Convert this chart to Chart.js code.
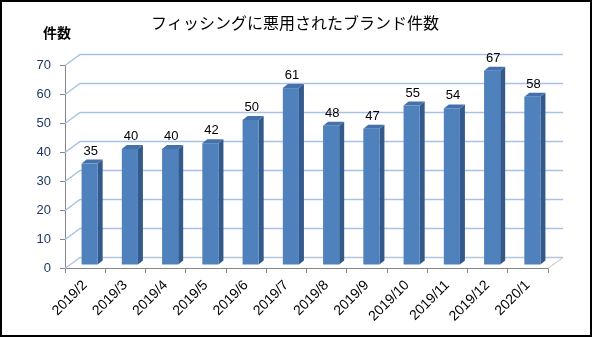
<!DOCTYPE html>
<html>
<head>
<meta charset="utf-8">
<script src="https://cdn.jsdelivr.net/npm/chart.js@4"></script>
<style>
  html, body { margin: 0; padding: 0; background: #fff; }
  #wrap { width: 592px; height: 337px; }
</style>
</head>
<body>
<div id="wrap"><canvas id="chart" width="592" height="337"></canvas></div>
<script>
// Data
const months = ['2019/2', '2019/3', '2019/4', '2019/5', '2019/6', '2019/7',
  '2019/8', '2019/9', '2019/10', '2019/11', '2019/12', '2020/1'];
const brandCounts = [35, 40, 40, 42, 50, 61, 48, 47, 55, 54, 67, 58];
const yTicks = [0, 10, 20, 30, 40, 50, 60, 70];

const chartTitle = 'フィッシングに悪用されたブランド件数';
const axisTitle = '件数';

// depth of the back wall and of the bars (pseudo 3D like the Excel chart)
const WALL_DX = 15, WALL_DY = -11;
const BAR_DX = 4.5, BAR_DY = -3;
const SIDE_DX = 5, SIDE_DY = -4;

const threeD = {
  id: 'threeD',
  beforeDatasetsDraw(chart) {
    const ctx = chart.ctx;
    const y = chart.scales.y;
    const area = chart.chartArea;
    ctx.save();
    // back wall + left wall gridlines
    yTicks.forEach(v => {
      const py = Math.round(y.getPixelForValue(v)) + 0.5;
      ctx.strokeStyle = v === 0 ? '#b4c6dc' : '#a7c2e6';
      ctx.lineWidth = 1.5;
      ctx.beginPath();
      ctx.moveTo(area.left, py);
      ctx.lineTo(area.left + WALL_DX, py + WALL_DY);
      ctx.lineTo(area.right + WALL_DX, py + WALL_DY);
      ctx.stroke();
    });
    // right floor edge
    const by = Math.round(y.getPixelForValue(0)) + 0.5;
    ctx.strokeStyle = '#c0c0c0';
    ctx.lineWidth = 1;
    ctx.beginPath();
    ctx.moveTo(area.right, by);
    ctx.lineTo(area.right + WALL_DX, by + WALL_DY);
    ctx.stroke();
    ctx.restore();
  },
  afterDatasetsDraw(chart) {
    const ctx = chart.ctx;
    const meta = chart.getDatasetMeta(0);
    ctx.save();
    meta.data.forEach((bar, i) => {
      const p = bar.getProps(['x', 'y', 'base', 'width'], true);
      const xl = p.x - p.width / 2 + BAR_DX;
      const xr = p.x + p.width / 2 + BAR_DX;
      const yt = p.y + BAR_DY;
      const yb = p.base + BAR_DY;
      // side face
      ctx.fillStyle = '#34598b';
      ctx.beginPath();
      ctx.moveTo(xr, yt);
      ctx.lineTo(xr + SIDE_DX, yt + SIDE_DY);
      ctx.lineTo(xr + SIDE_DX, yb + SIDE_DY);
      ctx.lineTo(xr, yb);
      ctx.closePath();
      ctx.fill();
      // top face
      ctx.fillStyle = '#4571ab';
      ctx.beginPath();
      ctx.moveTo(xl, yt);
      ctx.lineTo(xl + SIDE_DX, yt + SIDE_DY);
      ctx.lineTo(xr + SIDE_DX, yt + SIDE_DY);
      ctx.lineTo(xr, yt);
      ctx.closePath();
      ctx.fill();
      // front face
      ctx.fillStyle = '#4f81bd';
      ctx.fillRect(xl, yt, xr - xl, yb - yt);
      // value label
      ctx.fillStyle = '#000';
      ctx.font = '13px "Liberation Sans", sans-serif';
      ctx.textAlign = 'center';
      ctx.textBaseline = 'bottom';
      ctx.fillText(String(brandCounts[i]), (xl + xr) / 2 + 1, yt + SIDE_DY - 2);
    });
    ctx.restore();
  },
  afterDraw(chart) {
    const ctx = chart.ctx;
    ctx.save();
    ctx.fillStyle = '#000';
    ctx.textBaseline = 'middle';
    ctx.textAlign = 'center';
    ctx.font = '16px "Noto Sans CJK JP"';
    ctx.fillText(chartTitle, 295, 23);
    ctx.font = 'bold 14px "Noto Sans CJK JP"';
    ctx.fillText(axisTitle, 57, 33);
    // outer frame
    ctx.strokeStyle = '#000';
    ctx.lineWidth = 2;
    ctx.strokeRect(1, 1, 590, 335);
    ctx.restore();
  }
};

new Chart(document.getElementById('chart').getContext('2d'), {
  type: 'bar',
  data: {
    labels: months,
    datasets: [{
      data: brandCounts,
      backgroundColor: 'rgba(0,0,0,0)',
      barPercentage: 0.4,
      categoryPercentage: 1
    }]
  },
  options: {
    responsive: false,
    animation: false,
    layout: { padding: { top: 65, right: 44, bottom: 0, left: 0 } },
    plugins: {
      legend: { display: false },
      tooltip: { enabled: false }
    },
    scales: {
      x: {
        afterFit(scale) { scale.height = 69; },
        border: { color: '#868686', width: 1 },
        grid: { drawOnChartArea: false, tickLength: 5, color: '#868686', offset: true },
        ticks: {
          minRotation: 45, maxRotation: 45, autoSkip: false,
          padding: 4,
          color: '#000',
          font: { family: '"Liberation Sans", sans-serif', size: 14 }
        }
      },
      y: {
        min: 0, max: 70,
        afterFit(scale) { scale.width = 65; },
        border: { color: '#868686', width: 1 },
        grid: { drawOnChartArea: false, tickLength: 5, color: '#868686' },
        ticks: {
          stepSize: 10,
          padding: 9,
          color: '#1f3864',
          font: { family: '"Liberation Sans", sans-serif', size: 13 }
        }
      }
    }
  },
  plugins: [threeD]
});
</script>
</body>
</html>
